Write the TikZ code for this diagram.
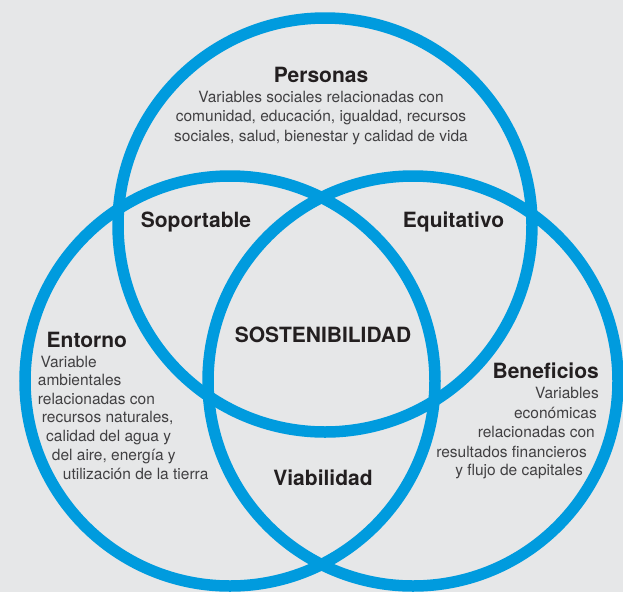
\documentclass[tikz,border=0pt]{standalone}
\usepackage{fontspec}
\setmainfont{TeX Gyre Heros}
\definecolor{bg}{HTML}{E6E7E8}
\definecolor{ring}{HTML}{009BDE}
\definecolor{ttl}{HTML}{231F20}
\definecolor{bodytxt}{HTML}{414042}
\tikzset{
  ringline/.style={draw=ring, line width=11.5pt},
  ttlfont/.style={font=\fontsize{21}{24}\selectfont\bfseries, text=ttl, inner sep=0pt},
  bodyfont/.style={font=\fontsize{15.5}{19}\selectfont, text=bodytxt, inner sep=0pt},
}
\begin{document}
\begin{tikzpicture}[x=1pt,y=-1pt]
\fill[bg] (0,0) rectangle (623,592);
\path[use as bounding box] (0,0) rectangle (623,592);
\clip (0,0) rectangle (623,592);

\coordinate (ctop) at (325,225);
\coordinate (cleft) at (230,381);
\coordinate (cright) at (413,381);
\draw[ringline] (ctop) circle[radius=207pt];
\draw[ringline] (cleft) circle[radius=205pt];
\draw[ringline] (cright) circle[radius=205pt];

% Personas
\node[ttlfont, anchor=base] (pers) at (321,82) {Personas};
\node[bodyfont, anchor=base] (pers1) at (321,102) {Variables sociales relacionadas con};
\node[bodyfont, anchor=base] (pers2) at (321,121.5) {comunidad, educación, igualdad, recursos};
\node[bodyfont, anchor=base] (pers3) at (321,141) {sociales, salud, bienestar y calidad de vida};

% intersections
\node[ttlfont, anchor=base] (sop) at (196,227) {Soportable};
\node[ttlfont, anchor=base] (equ) at (453.5,227) {Equitativo};
\node[ttlfont, anchor=base] (sost) at (323,342) {SOSTENIBILIDAD};
\node[ttlfont, anchor=base] (viab) at (323,485) {Viabilidad};

% Entorno
\node[ttlfont, anchor=base west] (ent) at (46.5,347) {Entorno};
\node[bodyfont, anchor=base west] (ent1) at (40.5,367) {Variable};
\node[bodyfont, anchor=base west] (ent2) at (37.7,385.5) {ambientales};
\node[bodyfont, anchor=base west] (ent3) at (37.7,404) {relacionadas con};
\node[bodyfont, anchor=base west] (ent4) at (41.7,422.5) {recursos naturales,};
\node[bodyfont, anchor=base west] (ent5) at (46,441) {calidad del agua y};
\node[bodyfont, anchor=base west] (ent6) at (51.7,460) {del aire, energía y};
\node[bodyfont, anchor=base west] (ent7) at (62.7,479) {utilización de la tierra};

% Beneficios
\node[ttlfont, anchor=base east] (ben) at (599,378) {Beneficios};
\node[bodyfont, anchor=base east] (ben1) at (599,398) {Variables};
\node[bodyfont, anchor=base east] (ben2) at (597,418) {económicas};
\node[bodyfont, anchor=base east] (ben3) at (595,437.5) {relacionadas con};
\node[bodyfont, anchor=base east] (ben4) at (587,457) {resultados financieros};
\node[bodyfont, anchor=base east] (ben5) at (583,475.5) {y flujo de capitales};
\end{tikzpicture}
\end{document}
